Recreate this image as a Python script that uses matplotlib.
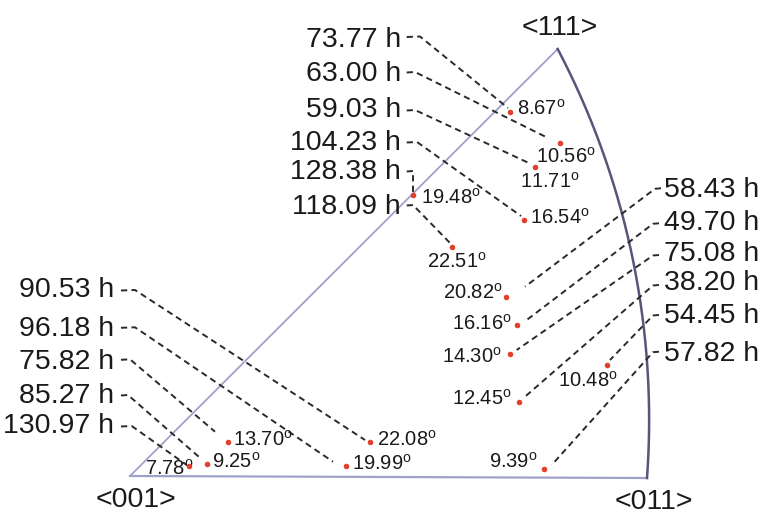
import numpy as np
import matplotlib.pyplot as plt

plt.rcParams['font.family'] = ['Liberation Sans', 'DejaVu Sans']
plt.rcParams['mathtext.fontset'] = 'custom'
plt.rcParams['mathtext.rm'] = 'Liberation Sans'

# inverse pole figure frame (pixel-like coordinates)
corner_001 = (130, 476)
corner_011 = (647, 478)
corner_111 = (557.7, 49)
arc_mid = (609, 170)

# three groups of samples: creep life (h), misorientation angle (deg), dot position
top_hours = ["73.77", "63.00", "59.03", "104.23", "128.38", "118.09"]
top_angles = ["8.67", "10.56", "11.71", "16.54", "19.48", "22.51"]
top_dot_x = [509.7, 560.0, 535.3, 524.0, 413.3, 452.3]
top_dot_y = [112.0, 143.0, 167.0, 220.0, 195.0, 247.3]

low_hours = ["90.53", "96.18", "75.82", "85.27", "130.97"]
low_angles = ["22.08", "19.99", "13.70", "9.25", "7.78"]
low_dot_x = [370.0, 345.7, 227.7, 207.3, 189.3]
low_dot_y = [441.7, 466.0, 442.3, 464.0, 466.0]

right_hours = ["58.43", "49.70", "75.08", "38.20", "54.45", "57.82"]
right_angles = ["20.82", "16.16", "14.30", "12.45", "10.48", "9.39"]
right_dot_x = [505.7, 517.0, 510.3, 518.7, 606.7, 544.3]
right_dot_y = [296.7, 325.0, 354.3, 401.7, 365.0, 469.0]

# layout: label rows and leader lines
top_label_y = [40, 74, 110, 143, 172, 207]
top_elbow = [(420, 36.5), (415, 72), (415, 110), (417, 142), (413, 171), (413, 205)]
top_end = [(508, 108), (548, 138), (531, 164), (521, 216), (413, 193), (450, 243)]
top_ang_pos = [(517, 109, 'left'), (566, 157, 'center'), (550, 182, 'center'),
               (530, 218, 'left'), (421, 198, 'left'), (457, 262, 'center')]

low_label_y = [290, 329, 362, 396, 426]
low_elbow = [(135, 290), (135, 327.3), (130, 359.3), (128, 395), (131.7, 426)]
low_end = [(365, 440), (333, 461.7), (215, 431.7), (201.7, 459.3), (186.7, 465)]
low_ang_pos = [(377, 440, 'left'), (352, 464, 'left'), (233, 440, 'left'),
               (212, 462, 'left'), (145, 469, 'left')]

right_label_y = [190, 223, 254, 283, 316, 354]
right_start = [(661, 188.3), (659, 223.3), (659, 255), (659, 285), (659, 315), (659, 351.7)]
right_end = [(525, 286.7), (526.7, 320), (516.7, 350), (525, 396.7), (610, 360), (551.7, 465)]
right_ang_pos = [(503, 293, 'right'), (512, 324, 'right'), (502, 357, 'right'),
                 (512, 399, 'right'), (588, 381, 'center'), (538, 462, 'right')]

fig = plt.figure(figsize=(7.68, 5.18), dpi=100)
ax = fig.add_axes([0, 0, 1, 1])
ax.set_xlim(0, 768)
ax.set_ylim(518, 0)
ax.axis('off')

edge_c = '#a0a0cc'
arc_c = '#56567a'
dot_c = '#e0402c'
txt_c = '#1a1a1a'
big = 20.5
small = 14.5

# straight edges
ax.plot([corner_001[0], corner_111[0]], [corner_001[1], corner_111[1]], color=edge_c, lw=1.3)
ax.plot([corner_001[0], corner_011[0]], [corner_001[1], corner_011[1]], color=edge_c, lw=1.6)

# arc <111> -> <011>: circle through three points
p1, p2, p3 = np.array(corner_111), np.array(arc_mid), np.array(corner_011)
A = np.array([p2 - p1, p3 - p1]) * 2
b = np.array([p2 @ p2 - p1 @ p1, p3 @ p3 - p1 @ p1])
c = np.linalg.solve(A, b)
r = np.linalg.norm(p1 - c)
a1 = np.arctan2(*(p1 - c)[::-1])
a3 = np.arctan2(*(p3 - c)[::-1])
t = np.linspace(a1, a3, 200)
ax.plot(c[0] + r * np.cos(t), c[1] + r * np.sin(t), color=arc_c, lw=1.8)

ax.text(560, 28, '<111>', fontsize=20.5, ha='center', va='center', color=txt_c)
ax.text(136, 500, '<001>', fontsize=20.5, ha='center', va='center', color=txt_c)
ax.text(654, 502, '<011>', fontsize=20.5, ha='center', va='center', color=txt_c)

dash = dict(color='#2a2a2a', lw=1.4, ls=(0, (3.2, 2.2)))


def deg(s):
    return s + r'$^{\mathrm{o}}$'


# top-left group
for i in range(len(top_hours)):
    y = top_label_y[i]
    ax.text(401, y, top_hours[i] + ' h', fontsize=big, ha='right', va='center', color=txt_c)
    ex, ey = top_elbow[i]
    fx, fy = top_end[i]
    ax.plot([406.7, ex, fx], [ey + 0.5, ey, fy], **dash)
    ax.scatter(top_dot_x[i], top_dot_y[i], s=16, color=dot_c, zorder=5, lw=0)
    tx, ty, ha = top_ang_pos[i]
    ax.text(tx, ty, deg(top_angles[i]), fontsize=small, ha=ha, va='center', color=txt_c)

# bottom-left group
for i in range(len(low_hours)):
    y = low_label_y[i]
    ax.text(114, y, low_hours[i] + ' h', fontsize=big, ha='right', va='center', color=txt_c)
    ex, ey = low_elbow[i]
    fx, fy = low_end[i]
    ax.plot([121, ex, fx], [ey + 0.5, ey, fy], **dash)
    ax.scatter(low_dot_x[i], low_dot_y[i], s=16, color=dot_c, zorder=5, lw=0)
    tx, ty, ha = low_ang_pos[i]
    ax.text(tx, ty, deg(low_angles[i]), fontsize=small, ha=ha, va='center', color=txt_c)

# right group
for i in range(len(right_hours)):
    y = right_label_y[i]
    ax.text(664, y, right_hours[i] + ' h', fontsize=big, ha='left', va='center', color=txt_c)
    sx, sy = right_start[i]
    fx, fy = right_end[i]
    ax.plot([sx, sx - 6, fx], [sy, sy + 0.5, fy], **dash)
    ax.scatter(right_dot_x[i], right_dot_y[i], s=16, color=dot_c, zorder=5, lw=0)
    tx, ty, ha = right_ang_pos[i]
    ax.text(tx, ty, deg(right_angles[i]), fontsize=small, ha=ha, va='center', color=txt_c)

fig.savefig('out.png', dpi=100)
